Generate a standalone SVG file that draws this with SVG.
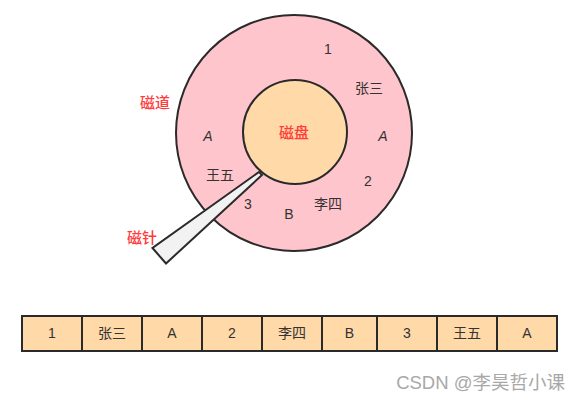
<svg xmlns="http://www.w3.org/2000/svg" width="580" height="401" viewBox="0 0 580 401">
<style>
.t{font-family:"Liberation Sans","Noto Sans CJK SC",sans-serif;font-size:14px;fill:#333;text-anchor:middle;dominant-baseline:central}
.r{font-family:"Noto Sans CJK SC",sans-serif;font-size:15px;font-weight:500;fill:#ff3b3b;text-anchor:middle;dominant-baseline:central}
.i{font-style:italic}
.cell{fill:#ffd9a8;stroke:#2a2a2a;stroke-width:2}
</style>
<rect width="580" height="401" fill="#fff"/>
<g id="track">
<circle cx="294" cy="133" r="118" fill="#ffc5cc" stroke="#2a2a2a" stroke-width="2"/>
</g>
<g id="disk">
<circle cx="295" cy="132" r="52" fill="#ffd9a8" stroke="#2a2a2a" stroke-width="2"/>
<text class="r" x="294" y="131" font-weight="bold" font-size="16">磁盘</text>
</g>
<g id="needle">
<polygon points="152.5,248 166,263.5 262,175 259,172" fill="#f2f2f2" stroke="#2a2a2a" stroke-width="2" stroke-linejoin="miter"/>
</g>
<g id="track-labels">
<text class="t" x="328" y="49">1</text>
<text class="t" x="369" y="88">张三</text>
<text class="t i" x="383" y="136">A</text>
<text class="t" x="368" y="181">2</text>
<text class="t" x="328" y="204">李四</text>
<text class="t" x="289" y="214">B</text>
<text class="t" x="248" y="204">3</text>
<text class="t" x="220" y="175">王五</text>
<text class="t i" x="208" y="136">A</text>
</g>
<g id="captions">
<text class="r" x="155" y="101">磁道</text>
<text class="r" x="142" y="236">磁针</text>
</g>
<g id="bar">
<rect class="cell" x="22" y="316" width="60" height="35"/>
<rect class="cell" x="82" y="316" width="60" height="35"/>
<rect class="cell" x="142" y="316" width="60" height="35"/>
<rect class="cell" x="202" y="316" width="60" height="35"/>
<rect class="cell" x="262" y="316" width="60" height="35"/>
<rect class="cell" x="322" y="316" width="55" height="35"/>
<rect class="cell" x="377" y="316" width="60" height="35"/>
<rect class="cell" x="437" y="316" width="60" height="35"/>
<rect class="cell" x="497" y="316" width="60" height="35"/>
<text class="t" x="52" y="333">1</text>
<text class="t" x="112" y="333">张三</text>
<text class="t" x="172" y="333">A</text>
<text class="t" x="232" y="333">2</text>
<text class="t" x="292" y="333">李四</text>
<text class="t" x="349.5" y="333">B</text>
<text class="t" x="407" y="333">3</text>
<text class="t" x="467" y="333">王五</text>
<text class="t" x="527" y="333">A</text>
</g>
<g id="connectors"></g>
<text x="565" y="389" font-family="Liberation Sans,'Noto Sans CJK SC',sans-serif" font-size="18.5" fill="#a8a8a8" text-anchor="end">CSDN @李昊哲小课</text>
</svg>
